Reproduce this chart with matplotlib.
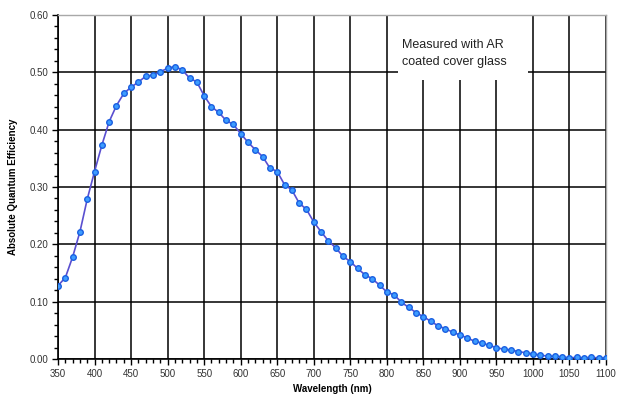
import numpy as np
import matplotlib.pyplot as plt
from matplotlib.patches import Rectangle
from matplotlib.ticker import MultipleLocator

plt.rcParams['font.family'] = ['Liberation Sans', 'DejaVu Sans']

# wavelength (nm) and absolute QE
wavelength = list(range(350, 1101, 10))
qe = [0.128, 0.142, 0.178, 0.222, 0.279, 0.327, 0.373, 0.414, 0.442, 0.463,
      0.474, 0.483, 0.493, 0.495, 0.501, 0.507, 0.510, 0.504, 0.490, 0.483,
      0.459, 0.440, 0.430, 0.416, 0.409, 0.393, 0.378, 0.365, 0.353, 0.333,
      0.327, 0.304, 0.295, 0.272, 0.261, 0.239, 0.222, 0.206, 0.194, 0.179,
      0.170, 0.158, 0.147, 0.140, 0.129, 0.117, 0.112, 0.099, 0.090, 0.081,
      0.074, 0.066, 0.058, 0.053, 0.047, 0.042, 0.037, 0.031, 0.028, 0.024,
      0.020, 0.017, 0.016, 0.013, 0.011, 0.009, 0.007, 0.005, 0.005, 0.004,
      0.002, 0.003, 0.002, 0.003, 0.002, 0.002]

note = 'Measured with AR\ncoated cover glass'

fig = plt.figure(figsize=(6.28, 4.03), dpi=100)
ax = fig.add_axes([0.0924, 0.109, 0.8726, 0.854])

ax.plot(wavelength, qe, color='#5a4fd0', lw=1.2, zorder=3)
ax.plot(wavelength, qe, ls='none', marker='o', ms=4.0, mfc='#3d9cff',
        mec='#1a5fe0', mew=1.0, zorder=4)

ax.set_xlim(350, 1100)
ax.set_ylim(0, 0.6)
ax.xaxis.set_major_locator(MultipleLocator(50))
ax.xaxis.set_minor_locator(MultipleLocator(10))
ax.yaxis.set_major_locator(MultipleLocator(0.1))
ax.yaxis.set_minor_locator(MultipleLocator(0.02))
ax.set_yticklabels(['%.2f' % v for v in ax.get_yticks()])

ax.grid(True, which='major', color='black', lw=1.1, zorder=1)
ax.set_axisbelow(True)
ax.tick_params(which='major', direction='out', length=4, width=1,
               labelsize=7, colors='black', labelcolor='#333333', pad=3)
ax.tick_params(which='minor', direction='out', length=3, width=1)

for s in ['top', 'right']:
    ax.spines[s].set_color('#a8a8a8')
    ax.spines[s].set_linewidth(1)
for s in ['left', 'bottom']:
    ax.spines[s].set_color('black')
    ax.spines[s].set_linewidth(1.2)

# white label box that hides the grid behind the note
ax.add_patch(Rectangle((815, 0.487), 178, 0.112, facecolor='white',
                       edgecolor='none', zorder=2))
ax.text(821, 0.5335, note, fontsize=9, color='#222222', va='center',
        ha='left', linespacing=1.55, zorder=5)

ax.set_xlabel('Wavelength (nm)', fontsize=7, fontweight='bold', labelpad=4)
ax.set_ylabel('Absolute Quantum Efficiency', fontsize=7, fontweight='bold',
              labelpad=8)

fig.savefig('out.png', dpi=100)
plt.close('all')
